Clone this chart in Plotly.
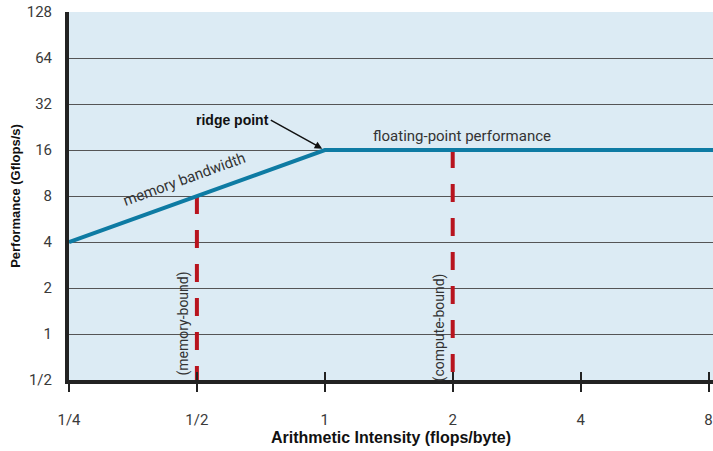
import math
import plotly.graph_objects as go

# ---- data ----
roof_x = [0.25, 1, 8.5]
roof_y = [4, 16, 16]
mem_bound_x = [0.5, 0.5]
mem_bound_y = [8, 0.5]
comp_bound_x = [2, 2]
comp_bound_y = [16, 0.5]
x_tickvals = [0.25, 0.5, 1, 2, 4, 8]
x_ticktext = ["1/4", "1/2", "1", "2", "4", "8"]
y_tickvals = [0.5, 1, 2, 4, 8, 16, 32, 64, 128]
y_ticktext = ["1/2", "1", "2", "4", "8", "16", "32", "64", "128"]

TICKFONT = dict(family="Roboto", size=15, color="#3a3a3a")
NOTEFONT = dict(family="Roboto", size=15, color="#333")

fig = go.Figure()
fig.add_trace(go.Scatter(x=mem_bound_x, y=mem_bound_y, mode="lines",
                         line=dict(color="#b8141e", width=4, dash="18px,16px"),
                         hoverinfo="skip"))
fig.add_trace(go.Scatter(x=comp_bound_x, y=comp_bound_y, mode="lines",
                         line=dict(color="#b8141e", width=4, dash="18px,16px"),
                         hoverinfo="skip"))
fig.add_trace(go.Scatter(x=roof_x, y=roof_y, mode="lines",
                         line=dict(color="#0e7ba3", width=4),
                         hoverinfo="skip"))
# invisible trace on secondary x axis for inside ticks
fig.add_trace(go.Scatter(x=[0.25], y=[1], xaxis="x2", mode="markers",
                         marker=dict(opacity=0), hoverinfo="skip"))

xr = [math.log10(0.25), math.log10(2 ** 3.035)]
fig.update_layout(
    width=713, height=451,
    margin=dict(l=69, r=0, t=12, b=71),
    plot_bgcolor="#dcebf4",
    paper_bgcolor="white",
    showlegend=False,
    xaxis=dict(type="log", range=xr,
               tickvals=x_tickvals, ticktext=x_ticktext, tickfont=TICKFONT,
               showgrid=False, zeroline=False,
               showline=True, linecolor="#222", linewidth=4,
               ticks="outside", ticklen=8, tickwidth=1.5, tickcolor="#222",
               ticklabelstandoff=15,
               title=dict(text="<b>Arithmetic Intensity (flops/byte)</b>",
                          font=dict(family="Liberation Sans", size=16, color="#111"),
                          standoff=2)),
    xaxis2=dict(type="log", overlaying="x", matches="x", side="bottom",
                range=xr,
                tickvals=x_tickvals, showticklabels=False, showgrid=False,
                zeroline=False, ticks="inside", ticklen=8, tickwidth=1.5,
                tickcolor="#222", showline=False),
    yaxis=dict(type="log", range=[math.log10(0.5), math.log10(128) + 0.001],
               tickvals=y_tickvals, ticktext=y_ticktext, tickfont=TICKFONT,
               showgrid=True, gridcolor="#555", gridwidth=1.2, zeroline=False,
               showline=True, linecolor="#222", linewidth=4,
               ticks="", ticklabelstandoff=10,
               title=dict(text="<b>Performance (Gflops/s)</b>",
                          font=dict(family="Liberation Sans", size=13, color="#111"),
                          standoff=4)),
    annotations=[
        dict(x=math.log10(0.5), y=math.log10(8), xref="x", yref="y",
             text="memory bandwidth", showarrow=False, textangle=-20,
             font=NOTEFONT, xshift=-12, yshift=17),
        dict(x=math.log10(2.1), y=math.log10(16), xref="x", yref="y",
             text="floating-point performance", showarrow=False,
             font=NOTEFONT, yshift=14),
        dict(x=math.log10(1), y=math.log10(16), xref="x", yref="y",
             text="<b>ridge point</b>", showarrow=True, arrowhead=2,
             arrowsize=1, arrowwidth=1.5, arrowcolor="#111",
             ax=-54, ay=-30, xanchor="right", standoff=3,
             font=dict(family="Liberation Sans", size=14, color="#111")),
        dict(x=math.log10(0.5), y=math.log10(1.1), xref="x", yref="y",
             text="(memory-bound)", showarrow=False, textangle=-90,
             font=dict(family="Roboto", size=14, color="#333"), xshift=-13, yshift=4),
        dict(x=math.log10(2), y=math.log10(1.1), xref="x", yref="y",
             text="(compute-bound)", showarrow=False, textangle=-90,
             font=dict(family="Roboto", size=14, color="#333"), xshift=-13),
    ],
)

fig.write_html("out.html")
